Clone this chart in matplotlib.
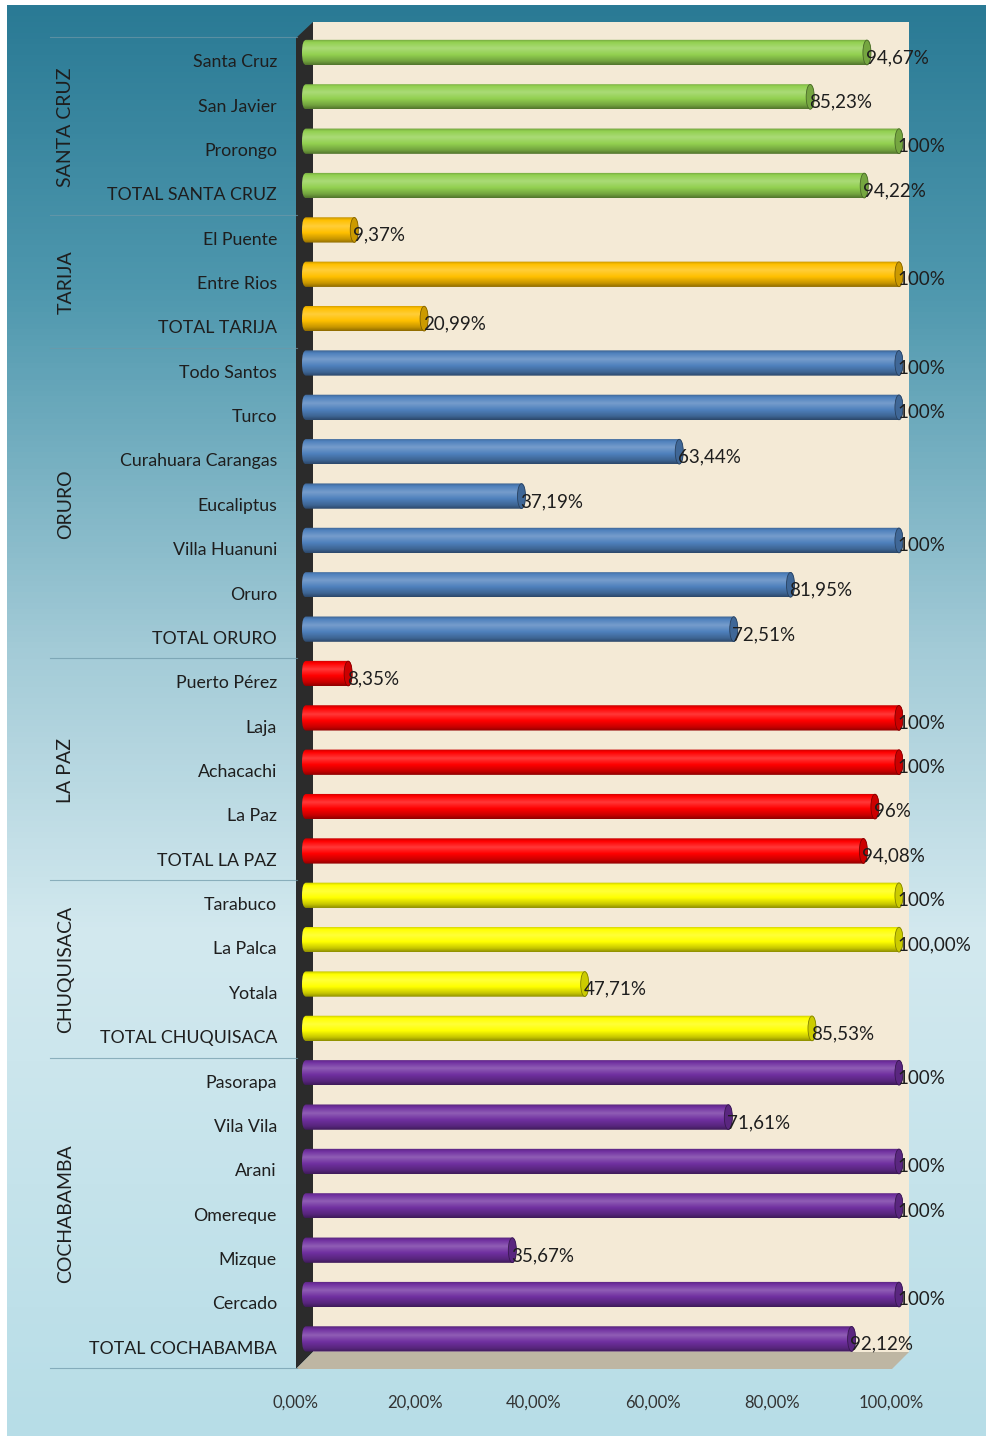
# -*- coding: utf-8 -*-
import numpy as np
import matplotlib
matplotlib.use("Agg")
import matplotlib.pyplot as plt
from matplotlib.patches import Polygon, FancyBboxPatch, Ellipse
from matplotlib.colors import to_rgb, LinearSegmentedColormap

plt.rcParams['font.family'] = ['Lato', 'DejaVu Sans']

# datos
grupos = ["SANTA CRUZ", "TARIJA", "ORURO", "LA PAZ", "CHUQUISACA", "COCHABAMBA"]
municipios = [
    ["Santa Cruz", "San Javier", "Prorongo", "TOTAL SANTA CRUZ"],
    ["El Puente", "Entre Rios", "TOTAL TARIJA"],
    ["Todo Santos", "Turco", "Curahuara Carangas", "Eucaliptus", "Villa Huanuni",
     "Oruro", "TOTAL ORURO"],
    ["Puerto Pérez", "Laja", "Achacachi", "La Paz", "TOTAL LA PAZ"],
    ["Tarabuco", "La Palca", "Yotala", "TOTAL CHUQUISACA"],
    ["Pasorapa", "Vila Vila", "Arani", "Omereque", "Mizque", "Cercado",
     "TOTAL COCHABAMBA"],
]
valores = [
    [94.67, 85.23, 100, 94.22],
    [9.37, 100, 20.99],
    [100, 100, 63.44, 37.19, 100, 81.95, 72.51],
    [8.35, 100, 100, 96, 94.08],
    [100, 100, 47.71, 85.53],
    [100, 71.61, 100, 100, 35.67, 100, 92.12],
]
etiquetas = [
    ["94,67%", "85,23%", "100%", "94,22%"],
    ["9,37%", "100%", "20,99%"],
    ["100%", "100%", "63,44%", "37,19%", "100%", "81,95%", "72,51%"],
    ["8,35%", "100%", "100%", "96%", "94,08%"],
    ["100%", "100,00%", "47,71%", "85,53%"],
    ["100%", "71,61%", "100%", "100%", "35,67%", "100%", "92,12%"],
]
colores = ["#92D050", "#FFC000", "#4F81BD", "#FF0000", "#FFFF00", "#7030A0"]
ticks = [0, 20, 40, 60, 80, 100]
tick_labels = ["0,00%", "20,00%", "40,00%", "60,00%", "80,00%", "100,00%"]

W, H = 987, 1436
fig = plt.figure(figsize=(W / 100, H / 100), dpi=100)
fig.patch.set_facecolor("white")

# fondo degradado + paredes 3D (coordenadas en pixeles)
bg = fig.add_axes([0, 0, 1, 1])
bg.axis("off")
fondo = LinearSegmentedColormap.from_list(
    "fondo", [(0, "#2A7A95"), (0.2, "#4F98AE"), (0.45, "#A3CBD7"),
              (0.65, "#D3E9EF"), (1.0, "#B7DDE7")])
grad = np.linspace(0, 1, 256).reshape(-1, 1)
bg.imshow(grad, cmap=fondo, extent=(7, W, H, 5), aspect="auto", zorder=0)
bg.add_patch(Polygon([(313, 22), (909, 22), (909, 1352), (313, 1352)],
                     closed=True, fc="#F4EAD6", ec="none", zorder=1))
bg.add_patch(Polygon([(296, 38), (313, 22), (313, 1352), (296, 1369)],
                     closed=True, fc="#2B2B2B", ec="none", zorder=2))
bg.add_patch(Polygon([(296, 1369), (313, 1352), (909, 1352), (892, 1369)],
                     closed=True, fc="#BEB6A3", ec="none", zorder=2))
bg.set_xlim(0, W)
bg.set_ylim(H, 0)

# ejes de las barras
n = sum(len(m) for m in municipios)
top_px, bot_px = 30.3, 1361.1
ax = fig.add_axes([302 / W, 1 - bot_px / H, 601 / W, (bot_px - top_px) / H])
ax.patch.set_alpha(0)
ax.axis("off")


def tono(c, f):
    c = np.array(to_rgb(c))
    if f >= 1:
        return c + (1 - c) * (f - 1)
    return c * f


h = 0.57
rx = 0.67
fila = 0
sep_x0 = (50 - 302) / 601
sep_x1 = (297 - 302) / 601
trans = ax.get_yaxis_transform()
ax.plot([sep_x0, sep_x1], [-0.5 + 0.16] * 2, transform=trans, color="#6E98A8",
        lw=0.8, alpha=0.7, clip_on=False)
for g, nombre in enumerate(grupos):
    col = colores[g]
    cmap = LinearSegmentedColormap.from_list(
        "c%d" % g, [(0, tono(col, 0.75)), (0.12, tono(col, 1.0)),
                    (0.35, tono(col, 1.22)), (0.6, tono(col, 1.0)),
                    (0.85, tono(col, 0.78)), (1.0, tono(col, 0.55))])
    inicio = fila
    for nom, v, et in zip(municipios[g], valores[g], etiquetas[g]):
        r = fila
        caja = FancyBboxPatch((0, r - h / 2), v, h,
                              boxstyle="round,pad=0,rounding_size=%f" % rx,
                              mutation_aspect=h / (2 * rx),
                              fc="none", ec="none")
        ax.add_patch(caja)
        im = ax.imshow(grad, cmap=cmap, extent=(0, v, r + h / 2, r - h / 2),
                       aspect="auto", zorder=3)
        im.set_clip_path(caja)
        ax.add_patch(Ellipse((v - rx, r), 2 * rx, h * 0.98, fc=tono(col, 0.8),
                             ec=tono(col, 0.5), lw=0.6, zorder=4))
        ax.text(v - 0.9, r + 0.12, et, ha="left", va="center", fontsize=13.5,
                color="#1E1E1E", zorder=5)
        ax.text(-25 / 601, r + 0.22, nom, transform=trans, ha="right",
                va="center", fontsize=12.8, color="#1E1E1E")
        fila += 1
    ax.text(-236 / 601, (inicio + fila - 1) / 2 + 0.18, nombre, transform=trans,
            ha="center", va="center", rotation=90, fontsize=14, color="#1E1E1E")
    ax.plot([sep_x0, sep_x1], [fila - 0.5 + 0.16] * 2, transform=trans,
            color="#6E98A8", lw=0.8, alpha=0.7, clip_on=False)

ax.set_xlim(0, 100)
ax.set_ylim(n - 0.5, -0.5)

# eje x (etiquetas)
tax = fig.add_axes([296 / W, 1 - 1385 / H, 595 / W, 0.0001])
tax.set_xlim(0, 100)
tax.set_xticks(ticks)
tax.set_xticklabels(tick_labels, fontsize=12, color="#333333")
tax.tick_params(axis="x", length=0, pad=7)
tax.set_yticks([])
for s in tax.spines.values():
    s.set_visible(False)
tax.patch.set_alpha(0)

plt.savefig("out.png", dpi=100)
